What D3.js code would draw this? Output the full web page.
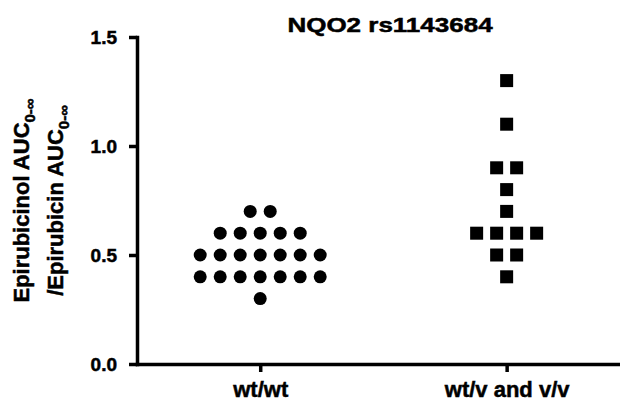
<!DOCTYPE html>
<html>
<head>
<meta charset="utf-8">
<script src="https://cdn.jsdelivr.net/npm/d3@7"></script>
<style>
  body { margin: 0; background: #fff; }
  text { font-family: "Liberation Sans", Arial, sans-serif; font-weight: bold; fill: #000;
         stroke: #000; stroke-width: 0.5px; }
</style>
</head>
<body>
<script>
const groups = ["wt/wt", "wt/v and v/v"];
const wtwt = [0.7, 0.7, 0.6, 0.6, 0.6, 0.6, 0.6,
              0.5, 0.5, 0.5, 0.5, 0.5, 0.5, 0.5,
              0.4, 0.4, 0.4, 0.4, 0.4, 0.4, 0.4, 0.3];
const variant = [1.3, 1.1, 0.9, 0.9, 0.8, 0.7, 0.6, 0.6, 0.6, 0.6, 0.5, 0.5, 0.4];
const yTicks = [0, 0.5, 1.0, 1.5];
const title = "NQO2 rs1143684";

const width = 620, height = 402;
const spread = 20, markSize = 13;

const svg = d3.select("body").append("svg")
    .attr("width", width)
    .attr("height", height);

const y = d3.scaleLinear().domain([0, 1.5]).range([364, 37]);
const x = d3.scaleLinear().domain([-0.5, 1.46]).range([137, 620]);

// column scatter: equal values side by side, centred on the group
function layout(vals, gi) {
    const counts = d3.rollup(vals, v => v.length, v => v);
    const seen = new Map();
    return vals.map(v => {
        const k = seen.get(v) || 0;
        seen.set(v, k + 1);
        const n = counts.get(v);
        return {v: v, cx: x(gi) + (k - (n - 1) / 2) * spread, cy: y(v)};
    });
}

const yAxis = svg.append("g")
    .attr("transform", "translate(" + x.range()[0] + ",0)")
    .call(d3.axisLeft(y).tickValues(yTicks).tickFormat(d3.format(".1f"))
        .tickSize(8).tickSizeOuter(0).tickPadding(12));

const xAxis = svg.append("g")
    .attr("transform", "translate(0," + y(0) + ")")
    .call(d3.axisBottom(x).tickValues([0, 1]).tickFormat(i => groups[i])
        .tickSize(8).tickSizeOuter(0).tickPadding(9));

[yAxis, xAxis].forEach(a => {
    a.select(".domain").attr("stroke-width", 3.5).attr("stroke-linecap", "square");
    a.selectAll(".tick line").attr("stroke-width", 3.5);
});
yAxis.selectAll(".tick text").style("font-size", "19px");
xAxis.selectAll(".tick text").style("font-size", "22px");

svg.append("g").selectAll("circle")
    .data(layout(wtwt, 0))
    .join("circle")
    .attr("cx", d => d.cx)
    .attr("cy", d => d.cy)
    .attr("r", markSize / 2)
    .attr("fill", "#000");

svg.append("g").selectAll("rect")
    .data(layout(variant, 1))
    .join("rect")
    .attr("x", d => d.cx - markSize / 2)
    .attr("y", d => d.cy - markSize / 2)
    .attr("width", markSize)
    .attr("height", markSize)
    .attr("fill", "#000");

svg.append("text")
    .attr("transform", "translate(390,32) scale(1.3,1)")
    .attr("text-anchor", "middle")
    .style("font-size", "20px")
    .text(title);

const yMid = (y(0) + y(1.5)) / 2;
const labLines = [["Epirubicinol AUC", 29], ["/Epirubicin AUC", 63]];
labLines.forEach(([txt, bx]) => {
    const t = svg.append("text")
        .attr("transform", "translate(" + bx + "," + yMid + ") rotate(-90)")
        .attr("text-anchor", "middle")
        .style("font-size", "22px");
    t.append("tspan").text(txt);
    t.append("tspan").attr("dy", 6).style("font-size", "15px").text("0-\u221E");
});
</script>
</body>
</html>
